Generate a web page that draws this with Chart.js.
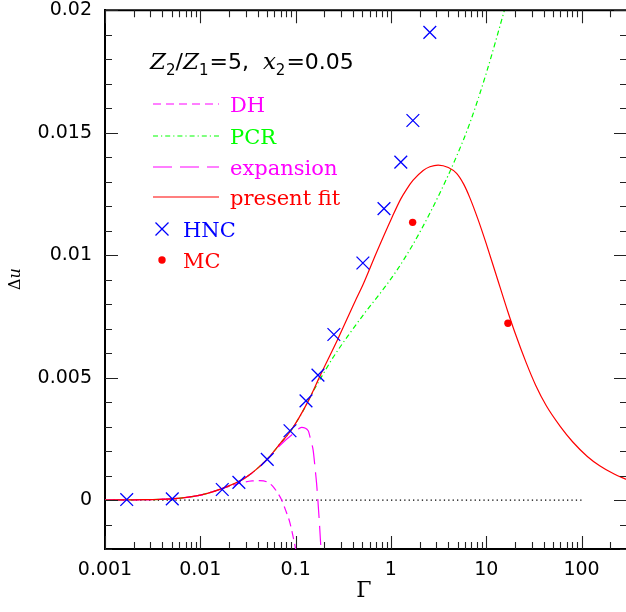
<!DOCTYPE html>
<html><head><meta charset="utf-8">
<script src="https://cdn.jsdelivr.net/npm/chart.js@4.4.1/dist/chart.umd.min.js"></script>
<style>
html,body{margin:0;padding:0;background:#fff;overflow:hidden;width:626px;height:612px}
#wrap{width:640px;height:612px;position:absolute;left:0;top:0}
</style>
</head><body><div id="wrap"><canvas id="c" width="640" height="612"></canvas></div>
<script>
// ---- data ----
const xTickValues = [0.001, 0.01, 0.1, 1, 10, 100];
const xTickLabels = ['0.001', '0.01', '0.1', '1', '10', '100'];
const yTickValues = [0, 0.005, 0.01, 0.015, 0.02];
const yTickLabels = ['0', '0.005', '0.01', '0.015', '0.02'];

const zeroGamma = [0.001, 100];
const zeroValues = [0, 0];

const dhGamma = [0.001, 0.002, 0.005, 0.01, 0.02, 0.028, 0.035, 0.042, 0.05, 0.058, 0.065, 0.0714, 0.08, 0.0865, 0.093, 0.1, 0.104];
const dhValues = [0.0, 0.00001, 0.00005, 0.0002, 0.00055, 0.00072, 0.00078, 0.00079, 0.00074, 0.00055, 0.00028, 0.0, -0.0005, -0.00088, -0.0014, -0.002, -0.0024];

const pcrGamma = [0.001, 0.002, 0.005, 0.01, 0.02, 0.03, 0.05, 0.07, 0.089, 0.12, 0.15, 0.19, 0.25, 0.372, 0.534, 0.767, 1.15, 1.71, 2.56, 3.84, 4.89, 6.74, 10.1, 15.1, 17.7];
const pcrValues = [0.0, 0.00001, 0.00005, 0.0002, 0.00058, 0.00092, 0.00166, 0.00234, 0.00283, 0.00365, 0.00438, 0.00508, 0.00585, 0.00682, 0.00765, 0.00843, 0.00937, 0.01045, 0.01171, 0.01312, 0.01404, 0.0154, 0.01748, 0.01984, 0.0208];

const expGamma = [0.001, 0.002, 0.005, 0.01, 0.02, 0.03, 0.05, 0.0714, 0.0985, 0.1157, 0.1355, 0.145, 0.153, 0.16, 0.166, 0.176, 0.1845, 0.19];
const expValues = [0.0, 0.00001, 0.00005, 0.0002, 0.00058, 0.00092, 0.00164, 0.0023, 0.00277, 0.00297, 0.00283, 0.0024, 0.00202, 0.00131, 0.00068, -0.00068, -0.002, -0.0029];

const fitGamma = [0.001, 0.002, 0.005, 0.01, 0.02, 0.03, 0.05, 0.07, 0.089, 0.136, 0.18, 0.28, 0.419, 0.513, 0.708, 1.02, 1.27, 1.46, 1.71, 2.18, 2.56, 3.13, 4.0, 4.89, 5.8, 6.74, 8.2, 10, 12.7, 16.8, 20, 26.3, 33, 42.7, 60, 81, 115, 155, 220, 300];
const fitValues = [0.0, 0.00001, 0.00005, 0.0002, 0.00058, 0.00092, 0.00166, 0.00234, 0.00283, 0.00405, 0.00506, 0.00661, 0.0081, 0.00882, 0.01012, 0.01152, 0.0123, 0.01269, 0.01306, 0.01346, 0.01361, 0.01368, 0.01358, 0.01334, 0.0129, 0.01234, 0.01146, 0.01047, 0.0092, 0.00771, 0.00684, 0.0056, 0.00469, 0.00385, 0.003, 0.00237, 0.00178, 0.0014, 0.00106, 0.00083];

const hncGamma = [0.00169, 0.00508, 0.017, 0.0254, 0.0504, 0.0873, 0.1285, 0.1716, 0.252, 0.508, 0.846, 1.27, 1.70, 2.56];
const hncValues = [0.00002, 0.00005, 0.00043, 0.00072, 0.00166, 0.00283, 0.00405, 0.0051, 0.00676, 0.00968, 0.0119, 0.0138, 0.0155, 0.0191];

const mcGamma = [1.69, 16.9];
const mcValues = [0.01134, 0.00722];

// ---- helpers ----
const toXY = (xs, ys) => xs.map((x, i) => ({ x: x, y: ys[i] }));
const MAGENTA = '#ff00ff', GREEN = '#00ff00', RED = '#ff0000', BLUE = '#0000ff';

const dsZero = { label: 'zero', data: toXY(zeroGamma, zeroValues), borderColor: '#000', borderWidth: 1.2, borderDash: [1.3, 3.1], pointRadius: 0, order: 6 };
const dsDH = { label: 'DH', data: toXY(dhGamma, dhValues), borderColor: MAGENTA, borderWidth: 1.2, borderDash: [8, 5], pointRadius: 0, cubicInterpolationMode: 'monotone', order: 5 };
const dsPCR = { label: 'PCR', data: toXY(pcrGamma, pcrValues), borderColor: GREEN, borderWidth: 1.2, borderDash: [5, 3, 1.2, 3], pointRadius: 0, cubicInterpolationMode: 'monotone', order: 4 };
const dsExp = { label: 'expansion', data: toXY(expGamma, expValues), borderColor: MAGENTA, borderWidth: 1.2, borderDash: [19, 8], pointRadius: 0, cubicInterpolationMode: 'monotone', order: 3 };
const dsFit = { label: 'present fit', data: toXY(fitGamma, fitValues), borderColor: RED, borderWidth: 1.2, pointRadius: 0, cubicInterpolationMode: 'monotone', order: 2 };
const dsHNC = { label: 'HNC', data: toXY(hncGamma, hncValues), showLine: false, pointStyle: 'crossRot', pointRadius: 9, borderColor: BLUE, backgroundColor: BLUE, borderWidth: 1.3, order: 1 };
const dsMC = { label: 'MC', data: toXY(mcGamma, mcValues), showLine: false, pointStyle: 'circle', pointRadius: 3.7, borderColor: RED, backgroundColor: RED, borderWidth: 0, order: 0 };

const decor = {
  id: 'decor',
  afterDraw(chart) {
    const ctx = chart.ctx;
    const a = chart.chartArea;
    const xs = chart.scales.x, ys = chart.scales.y;
    ctx.save();
    // frame (top and right)
    ctx.strokeStyle = '#000';
    ctx.lineWidth = 2;
    ctx.setLineDash([]);
    ctx.beginPath();
    ctx.moveTo(a.left, a.top); ctx.lineTo(a.right, a.top); ctx.lineTo(a.right, a.bottom);
    ctx.stroke();
    // ticks
    ctx.lineWidth = 1.1;
    ctx.strokeStyle = '#222';
    const MAJ = 13, MIN = 7;
    ctx.beginPath();
    for (let e = -3; e <= 2; e++) {
      for (let k = 1; k <= 9; k++) {
        const v = k * Math.pow(10, e);
        if (v > xs.max * 1.0001) continue;
        const px = Math.round(xs.getPixelForValue(v)) + 0.5;
        const len = k === 1 ? MAJ : MIN;
        ctx.moveTo(px, a.bottom); ctx.lineTo(px, a.bottom - len);
        ctx.moveTo(px, a.top); ctx.lineTo(px, a.top + len);
      }
    }
    for (let i = -2; i <= 20; i++) {
      const v = i / 1000;
      const py = Math.round(ys.getPixelForValue(v)) + 0.5;
      const len = (i % 5 === 0) ? MAJ : MIN;
      ctx.moveTo(a.left, py); ctx.lineTo(a.left + len, py);
      ctx.moveTo(a.right, py); ctx.lineTo(a.right - len, py);
    }
    ctx.stroke();

    // axis titles
    ctx.fillStyle = '#000';
    ctx.textAlign = 'center';
    ctx.textBaseline = 'middle';
    ctx.font = '22px "DejaVu Serif"';
    ctx.fillText('Γ', (a.left + a.right) / 2 - 2, 591);
    ctx.save();
    ctx.translate(16, 279);
    ctx.rotate(-Math.PI / 2);
    ctx.textAlign = 'left';
    ctx.font = '16px "DejaVu Serif"';
    const wD = ctx.measureText('Δ').width;
    ctx.font = 'italic 16px "DejaVu Serif"';
    const wU = ctx.measureText('u').width;
    const x0 = -(wD + wU) / 2;
    ctx.font = '16px "DejaVu Serif"';
    ctx.fillText('Δ', x0, 0);
    ctx.font = 'italic 16px "DejaVu Serif"';
    ctx.fillText('u', x0 + wD, 0);
    ctx.restore();

    // title inside plot: Z2/Z1=5, x2=0.05
    ctx.textAlign = 'left';
    ctx.textBaseline = 'alphabetic';
    const base = 69;
    const IT = 'italic 23px "DejaVu Serif"', SUB = '15px "DejaVu Sans"', SN = '22px "DejaVu Sans"';
    // [text, font, gap before, baseline shift]
    const pieces = [
      ['Z', IT, 0, 0], ['2', SUB, 0, 6], ['/', SN, 0, 0], ['Z', IT, 0, 0], ['1', SUB, 0, 6],
      ['=5,', SN, 1, 0], ['x', IT, 14, 0], ['2', SUB, 0, 6], ['=0.05', SN, 1, 0]
    ];
    let tx0 = 150;
    pieces.forEach(p => {
      ctx.font = p[1];
      tx0 += p[2];
      ctx.fillText(p[0], tx0, base + p[3]);
      tx0 += ctx.measureText(p[0]).width;
    });

    // legend
    const lx0 = 153, lx1 = 219, tx = 230;
    const rows = [[dsDH, 104], [dsPCR, 136], [dsExp, 167], [dsFit, 197]];
    ctx.font = '21px "DejaVu Serif"';
    rows.forEach(r => {
      const ds = r[0], y = r[1];
      ctx.strokeStyle = ds.borderColor;
      ctx.lineWidth = ds.borderWidth;
      ctx.setLineDash(ds.borderDash || []);
      ctx.beginPath(); ctx.moveTo(lx0, y); ctx.lineTo(lx1, y); ctx.stroke();
      ctx.setLineDash([]);
      ctx.fillStyle = ds.borderColor;
      ctx.fillText(ds.label, tx, y + 7.5);
    });
    // HNC
    const hx = 162, hy = 229, hs = 6.5;
    ctx.strokeStyle = BLUE; ctx.lineWidth = 1.3;
    ctx.beginPath();
    ctx.moveTo(hx - hs, hy - hs); ctx.lineTo(hx + hs, hy + hs);
    ctx.moveTo(hx - hs, hy + hs); ctx.lineTo(hx + hs, hy - hs);
    ctx.stroke();
    ctx.fillStyle = BLUE;
    ctx.fillText(dsHNC.label, 183, hy + 7.5);
    // MC
    ctx.fillStyle = RED;
    ctx.beginPath(); ctx.arc(162, 260, 3.7, 0, Math.PI * 2); ctx.fill();
    ctx.fillText(dsMC.label, 183, 260 + 7.5);
    ctx.restore();
  }
};

new Chart(document.getElementById('c').getContext('2d'), {
  type: 'line',
  data: { datasets: [dsZero, dsDH, dsPCR, dsExp, dsFit, dsHNC, dsMC] },
  options: {
    responsive: false, animation: false, devicePixelRatio: 1,
    layout: { padding: { top: 6, right: 13, left: 0, bottom: 0 } },
    plugins: { legend: { display: false }, tooltip: { enabled: false }, title: { display: false } },
    scales: {
      x: {
        type: 'logarithmic', min: 0.001, max: 300, position: 'bottom',
        afterBuildTicks: s => { s.ticks = xTickValues.map(v => ({ value: v })); },
        afterFit: s => { s.height = 63; s.paddingLeft = 0; s.paddingRight = 0; },
        ticks: {
          callback: (v, i) => xTickLabels[i],
          font: { family: 'DejaVu Sans', size: 19 }, color: '#000', padding: 10,
          maxRotation: 0, minRotation: 0, autoSkip: false
        },
        grid: { display: false, drawTicks: false },
        border: { display: true, color: '#000', width: 2 }
      },
      y: {
        type: 'linear', min: -0.002, max: 0.02, position: 'left',
        afterBuildTicks: s => { s.ticks = yTickValues.map(v => ({ value: v })); },
        afterFit: s => { s.width = 105; s.paddingTop = 0; s.paddingBottom = 0; },
        ticks: {
          callback: (v, i) => yTickLabels[i],
          font: { family: 'DejaVu Sans', size: 19 }, color: '#000', padding: 13, autoSkip: false
        },
        grid: { display: false, drawTicks: false },
        border: { display: true, color: '#000', width: 2 }
      }
    }
  },
  plugins: [decor]
});
</script>
</body></html>
